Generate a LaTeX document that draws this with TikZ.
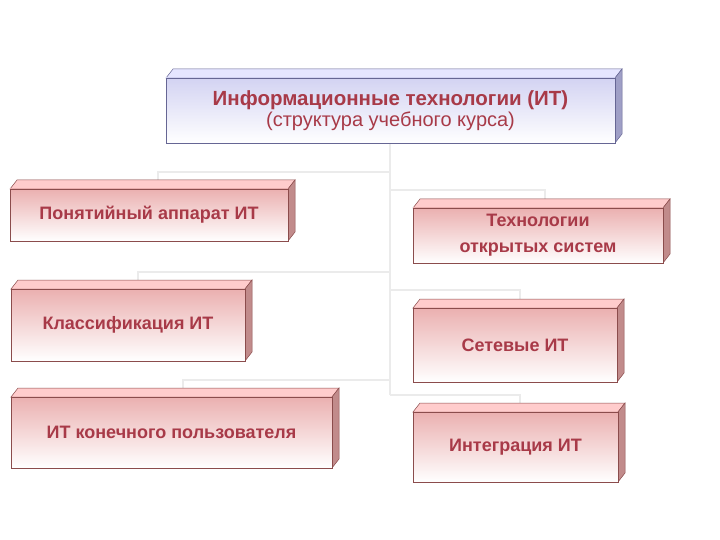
\documentclass[tikz,border=0pt]{standalone}
\usepackage{fontspec}
\setmainfont{Liberation Sans}
\newcommand\threedbox[8]{% name,x1,y1,x2,y2,boxstyle,faceprefix,text
  \path[#7top] (#2,#3) -- (#2+7,#3-9) -- (#4+7,#3-9) -- (#4,#3) -- cycle;
  \path[#7side] (#4,#3) -- (#4+7,#3-9) -- (#4+7,#5-9) -- (#4,#5) -- cycle;
  \node[#6,minimum width=#4-#2,minimum height=#5-#3] (#1) at ({(#2+#4)/2},{(#3+#5)/2}) {#8};}
\definecolor{tred}{HTML}{A83A48}
\begin{document}
\begin{tikzpicture}[x=1pt,y=-1pt,
  txt/.style={text=tred},
  pinkbox/.style={draw=red!35!black!70,line width=0.6pt,top color=red!25!white!92!black,bottom color=white,inner sep=0pt,align=center,font=\bfseries\fontsize{18}{26}\selectfont,txt},
  bluebox/.style={draw=blue!30!black!60,line width=0.6pt,top color=blue!13!white!95!black,bottom color=white,inner sep=0pt,align=center,txt},
  pside/.style={draw=red!35!black!70,line width=0.5pt,fill=red!30!gray!70},
  ptop/.style={draw=red!35!black!70,line width=0.5pt,fill=red!20!white},
  bside/.style={draw=blue!30!black!60,line width=0.5pt,fill=blue!25!gray!60},
  btop/.style={draw=blue!30!black!60,line width=0.5pt,fill=blue!10!white},
  conn/.style={draw=black!8,line width=2pt}]
\useasboundingbox (0,0) rectangle (720,540);
% connectors
\coordinate (v0) at (390,143);
\coordinate (v) at (390,395);
\coordinate (h1) at (158,172); \coordinate (h1r) at (390,172); \coordinate (h1e) at (158,185);
\coordinate (h2) at (138,272); \coordinate (h2r) at (390,272); \coordinate (h2e) at (138,282);
\coordinate (h3) at (183,380); \coordinate (h3r) at (390,380); \coordinate (h3e) at (183,390);
\coordinate (r1) at (545,190); \coordinate (r1l) at (390,190); \coordinate (r1e) at (545,200);
\coordinate (r2) at (520,290); \coordinate (r2l) at (390,290); \coordinate (r2e) at (520,300);
\coordinate (r3) at (520,395); \coordinate (r3e) at (520,404);
\draw[conn] (v0) -- (v);
\draw[conn] (h1r) -- (h1) -- (h1e);
\draw[conn] (h2r) -- (h2) -- (h2e);
\draw[conn] (h3r) -- (h3) -- (h3e);
\draw[conn] (r1l) -- (r1) -- (r1e);
\draw[conn] (r2l) -- (r2) -- (r2e);
\draw[conn] (v) -- (r3) -- (r3e);
% boxes
\threedbox{top}{166}{78}{615}{143}{bluebox}{b}{\bfseries\fontsize{20.5}{26}\selectfont Информационные технологии (ИТ)\\[1pt]\fontsize{20}{26}\selectfont\mdseries (структура учебного курса)}
\threedbox{b1}{10}{189}{288}{241}{pinkbox}{p}{Понятийный аппарат ИТ}
\threedbox{b2}{11}{289}{245}{361}{pinkbox}{p}{Классификация ИТ}
\threedbox{b3}{11}{397}{332}{468}{pinkbox}{p}{ИТ конечного пользователя}
\threedbox{c1}{413}{208}{663}{263}{pinkbox}{p}{Технологии\\открытых систем}
\threedbox{c2}{413}{308}{617}{382}{pinkbox}{p}{Сетевые ИТ}
\threedbox{c3}{413}{412}{618}{482}{pinkbox}{p}{Интеграция ИТ}
\end{tikzpicture}
\end{document}
